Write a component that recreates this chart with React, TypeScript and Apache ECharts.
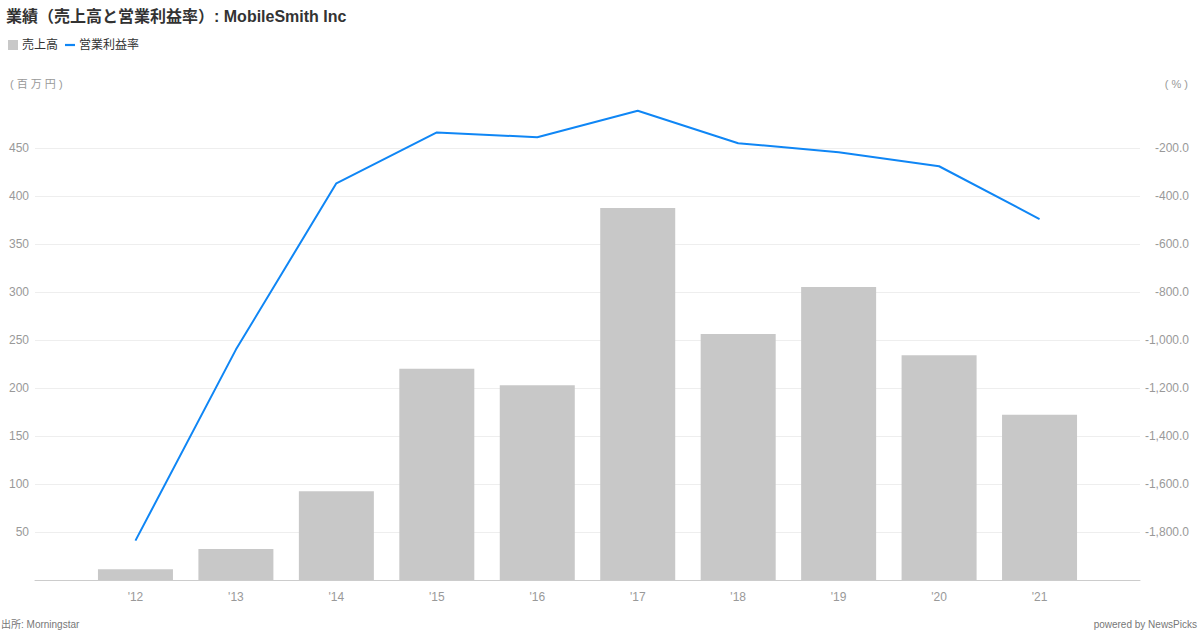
import React, { useEffect, useRef } from "react";
import * as echarts from "echarts";

const years = ["'12", "'13", "'14", "'15", "'16", "'17", "'18", "'19", "'20", "'21"];
const sales = [11.1, 32.3, 92.4, 220.1, 202.8, 387.5, 256.3, 305.2, 234.0, 172.2];
const margin = [-1836, -1040, -347, -135, -155, -45, -180, -218, -276, -496];

const FONT = "'Liberation Sans', 'Noto Sans CJK JP', Arial, sans-serif";

export default function App() {
  const ref = useRef<HTMLDivElement>(null);
  useEffect(() => {
    if (!ref.current) return;
    const chart = echarts.init(ref.current, null, { renderer: "svg" });
    const cats = ["", ...years, ""];
    const barData = [null, ...sales, null];
    const lineData = [null, ...margin, null];
    chart.setOption({
      animation: false,
      textStyle: { fontFamily: FONT },
      title: {
        text: "業績（売上高と営業利益率）: MobileSmith Inc",
        left: 6,
        top: 8,
        padding: 0,
        textStyle: { fontSize: 16, fontWeight: "bold", color: "#333", fontFamily: FONT },
      },
      legend: {
        left: 8,
        top: 39,
        padding: 0,
        itemWidth: 10,
        itemHeight: 10,
        itemGap: 7,
        textStyle: { fontSize: 12, color: "#333", fontFamily: FONT, padding: [0, 0, 0, -1] },
        data: [
          { name: "売上高", icon: "rect" },
          { name: "営業利益率", icon: "path://M0,4 L10,4 L10,6.2 L0,6.2 Z" },
        ],
      },
      grid: { left: 35, right: 60, top: 100, bottom: 50, containLabel: false },
      xAxis: {
        type: "category",
        data: cats,
        boundaryGap: false,
        axisLine: { lineStyle: { color: "#cccccc", width: 1 } },
        axisTick: { show: false },
        axisLabel: { color: "#999", fontSize: 12, margin: 11, fontFamily: FONT, interval: 0 },
      },
      yAxis: [
        {
          type: "value",
          min: 0,
          max: 500,
          interval: 50,
          axisLine: { show: false },
          axisTick: { show: false },
          axisLabel: {
            color: "#999",
            fontSize: 12,
            margin: 6,
            fontFamily: FONT,
            showMinLabel: false,
            showMaxLabel: false,
          },
          splitLine: { show: true, showMinLine: false, showMaxLine: false, lineStyle: { color: "#eeeeee", width: 1 } },
        },
        {
          type: "value",
          min: -2000,
          max: 0,
          interval: 200,
          position: "right",
          axisLine: { show: false },
          axisTick: { show: false },
          splitLine: { show: false },
          axisLabel: {
            color: "#999",
            fontSize: 12,
            margin: 49,
            align: "right",
            fontFamily: FONT,
            showMinLabel: false,
            showMaxLabel: false,
            formatter: (v: number) =>
              v.toLocaleString("en-US", { minimumFractionDigits: 1, maximumFractionDigits: 1 }),
          },
        },
      ],
      series: [
        {
          name: "売上高",
          type: "bar",
          yAxisIndex: 0,
          data: barData,
          barWidth: 75,
          itemStyle: { color: "#c8c8c8" },
        },
        {
          name: "営業利益率",
          type: "line",
          yAxisIndex: 1,
          data: lineData,
          symbol: "none",
          lineStyle: { color: "#0f86f5", width: 2 },
          itemStyle: { color: "#0f86f5" },
        },
      ],
      graphic: [
        {
          type: "text",
          left: 10,
          top: 78,
          style: { text: "( 百 万 円 )", fontSize: 11, fill: "#999", fontFamily: FONT },
        },
        {
          type: "text",
          right: 12,
          top: 78,
          style: { text: "( % )", fontSize: 11, fill: "#999", fontFamily: FONT },
        },
        {
          type: "text",
          left: 1,
          top: 619,
          style: { text: "出所: Morningstar", fontSize: 10, fill: "#777", fontFamily: FONT },
        },
        {
          type: "text",
          right: 3,
          top: 619,
          style: { text: "powered by NewsPicks", fontSize: 10, fill: "#777", fontFamily: FONT },
        },
      ],
    });
    return () => chart.dispose();
  }, []);
  return (
    <div
      ref={ref}
      style={{ position: "fixed", left: 0, top: 0, width: 1200, height: 630, background: "#fff" }}
    />
  );
}
